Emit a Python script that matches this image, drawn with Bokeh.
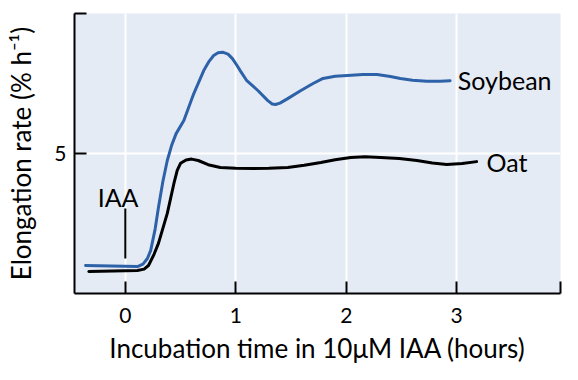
from bokeh.plotting import figure
from bokeh.models import FixedTicker, CustomJSTickFormatter, Range1d
from bokeh.core.properties import value
from bokeh.embed import file_html
from bokeh.resources import INLINE

# Data
soy_x = [-0.36, 0.11, 0.16, 0.20, 0.23, 0.27, 0.30, 0.34, 0.38, 0.42, 0.46, 0.53, 0.62, 0.71, 0.76,
         0.80, 0.84, 0.88, 0.93, 0.97, 1.01, 1.04, 1.10, 1.20, 1.29, 1.33, 1.36, 1.40, 1.47, 1.59,
         1.70, 1.79, 1.90, 2.01, 2.15, 2.28, 2.40, 2.49, 2.60, 2.73, 2.85, 2.94]
soy_y = [1.00, 0.96, 1.05, 1.25, 1.54, 2.30, 3.07, 4.00, 4.75, 5.30, 5.71, 6.18, 7.14, 7.96, 8.30,
         8.50, 8.60, 8.62, 8.55, 8.39, 8.15, 7.96, 7.60, 7.25, 6.89, 6.77, 6.75, 6.80, 6.96, 7.25,
         7.50, 7.68, 7.76, 7.79, 7.82, 7.82, 7.75, 7.68, 7.62, 7.58, 7.58, 7.60]
oat_x = [-0.33, 0.11, 0.17, 0.21, 0.26, 0.30, 0.38, 0.44, 0.47, 0.50, 0.55, 0.60, 0.66, 0.75, 0.86,
         1.00, 1.16, 1.30, 1.47, 1.62, 1.77, 1.90, 2.04, 2.17, 2.31, 2.48, 2.64, 2.78, 2.91, 3.05, 3.18]
oat_y = [0.79, 0.82, 0.87, 1.00, 1.40, 1.79, 2.86, 3.93, 4.40, 4.65, 4.77, 4.80, 4.75, 4.60, 4.50,
         4.47, 4.46, 4.47, 4.50, 4.58, 4.68, 4.78, 4.86, 4.88, 4.86, 4.82, 4.75, 4.66, 4.61, 4.64, 4.71]

series_names = ["Soybean", "Oat"]
label_x = [3.01, 3.27]
label_y = [7.64, 4.71]

iaa_x = [0.0]
iaa_y0 = [1.25]
iaa_y1 = [3.04]
iaa_label = ["IAA"]
iaa_label_x = [-0.25]
iaa_label_y = [3.46]

x_ticks = [0, 1, 2, 3]
y_ticks = [5]
x_min, x_max = -0.46, 3.94
y_min, y_max = 0, 10

FONT = "Lato"
BLUE = "#2e62a8"

p = figure(width=568, height=375, output_backend="svg", toolbar_location=None,
           x_range=Range1d(x_min, x_max), y_range=Range1d(y_min, y_max),
           min_border_left=74, min_border_right=8, min_border_top=13, min_border_bottom=82)
p.outline_line_color = None
p.background_fill_color = "#e4ebf5"
p.border_fill_color = "white"

p.line(soy_x, soy_y, line_color=BLUE, line_width=3, line_join="round", line_cap="round")
p.line(oat_x, oat_y, line_color="black", line_width=3, line_join="round", line_cap="round")

p.text(label_x, label_y, text=series_names, text_font=value(FONT), text_font_size="25px",
       text_baseline="middle", text_align="left", text_color="black")

p.segment(x0=iaa_x, y0=iaa_y0, x1=iaa_x, y1=iaa_y1, line_color="black", line_width=2)
p.text(iaa_label_x, iaa_label_y, text=iaa_label, text_font=value(FONT), text_font_size="25px",
       text_baseline="middle", text_align="left", text_color="black")

# Axes
p.xaxis.ticker = FixedTicker(ticks=x_ticks + [x_max])
p.xaxis.formatter = CustomJSTickFormatter(code="return (tick > 3.5) ? '' : tick.toFixed(0);")
p.yaxis.ticker = FixedTicker(ticks=y_ticks + [y_max])
p.yaxis.formatter = CustomJSTickFormatter(code="return (tick > 9) ? '' : tick.toFixed(0);")

p.xgrid.ticker = FixedTicker(ticks=x_ticks)
p.ygrid.ticker = FixedTicker(ticks=y_ticks)
p.grid.grid_line_color = "white"
p.grid.grid_line_width = 2

for ax in (p.xaxis[0], p.yaxis[0]):
    ax.axis_line_color = "black"
    ax.axis_line_width = 2
    ax.major_tick_line_color = "black"
    ax.major_tick_line_width = 2
    ax.major_tick_in = 12
    ax.major_tick_out = 0
    ax.minor_tick_line_color = None
    ax.major_label_text_font = FONT
    ax.major_label_text_font_size = "21px"
    ax.major_label_text_color = "black"
    ax.axis_label_text_font = FONT
    ax.axis_label_text_font_size = "26px"
    ax.axis_label_text_font_style = "normal"
    ax.axis_label_text_color = "black"

p.xaxis.axis_label = "Incubation time in 10\u03bcM IAA (hours)"
p.yaxis.axis_label = "Elongation rate (% h\u207b\u00b9)"
p.xaxis.major_label_standoff = 14
p.xaxis.axis_label_standoff = 6
p.yaxis.major_label_standoff = 8
p.yaxis.axis_label_standoff = 14

open("out.html", "w").write(file_html(p, INLINE))
